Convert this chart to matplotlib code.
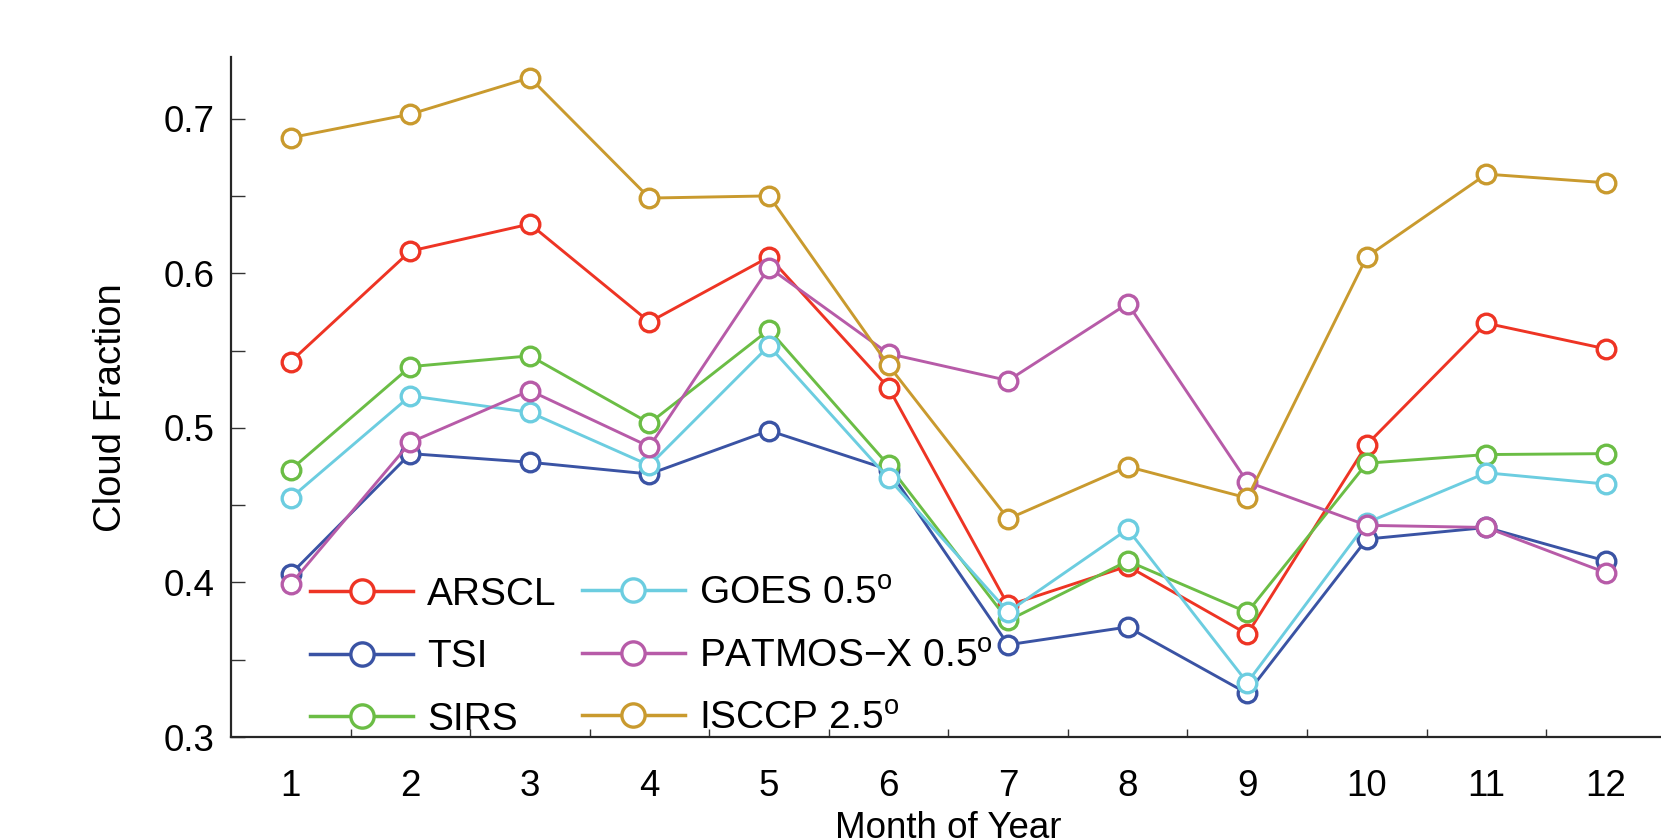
import matplotlib
matplotlib.use("Agg")
import matplotlib.pyplot as plt
from matplotlib.ticker import FixedLocator, NullFormatter

plt.rcParams['font.family'] = ['Liberation Sans', 'DejaVu Sans']
plt.rcParams['mathtext.fontset'] = 'custom'
plt.rcParams['mathtext.rm'] = 'Liberation Sans'
plt.rcParams['mathtext.it'] = 'Liberation Sans:italic'
plt.rcParams['mathtext.bf'] = 'Liberation Sans:bold'

months = [1, 2, 3, 4, 5, 6, 7, 8, 9, 10, 11, 12]

arscl = [0.543, 0.6145, 0.632, 0.5686, 0.6107, 0.526, 0.3852, 0.4106, 0.3666, 0.4893, 0.5678, 0.5512]
tsi = [0.4055, 0.4834, 0.4778, 0.4702, 0.4983, 0.473, 0.3597, 0.3712, 0.3282, 0.4281, 0.4356, 0.4139]
sirs = [0.473, 0.5397, 0.5467, 0.5031, 0.5636, 0.4758, 0.3754, 0.4139, 0.3807, 0.4772, 0.4828, 0.4834]
goes = [0.4547, 0.5208, 0.5101, 0.4758, 0.5532, 0.4674, 0.381, 0.4345, 0.3352, 0.4387, 0.471, 0.4637]
patmos = [0.399, 0.4907, 0.5242, 0.4879, 0.6038, 0.5481, 0.5307, 0.5805, 0.4651, 0.437, 0.4356, 0.4063]
isccp = [0.6879, 0.7031, 0.7267, 0.6488, 0.6502, 0.5405, 0.4412, 0.475, 0.4547, 0.6108, 0.6643, 0.6587]

labels = ["ARSCL", "TSI", "SIRS",
          r"GOES 0.5$^{\mathrm{o}}$", r"PATMOS$-$X 0.5$^{\mathrm{o}}$", r"ISCCP 2.5$^{\mathrm{o}}$"]
colors = ["#EE3424", "#3A53A4", "#6BBD45", "#6CCDE0", "#B75BA8", "#C99A2E"]
series = [arscl, tsi, sirs, goes, patmos, isccp]

W, H = 1661, 838
fig = plt.figure(figsize=(W / 100, H / 100), dpi=100)
ax = fig.add_axes([231 / W, 101 / H, (1665.75 - 231) / W, 680 / H])

lines = []
for vals, col, lab in zip(series, colors, labels):
    ln, = ax.plot(months, vals, '-o', color=col, lw=2.1, ms=13.4, mew=2.4,
                  mfc='white', mec=col, label=lab)
    lines.append(ln)

ax.set_xlim(0.5, 12.5)
ax.set_ylim(0.3, 0.7401)

for s in ['top', 'right']:
    ax.spines[s].set_visible(False)
for s in ['left', 'bottom']:
    ax.spines[s].set_linewidth(1.6)
    ax.spines[s].set_color('#262626')

fs = 26.5
ax.yaxis.set_major_locator(FixedLocator([0.3, 0.4, 0.5, 0.6, 0.7]))
ax.yaxis.set_minor_locator(FixedLocator([0.35, 0.45, 0.55, 0.65]))
ax.set_yticklabels(["0.3", "0.4", "0.5", "0.6", "0.7"])
ax.tick_params(axis='y', which='both', direction='in', length=10, width=1.0,
               color='#333333', labelsize=fs, pad=12)

ax.xaxis.set_major_locator(FixedLocator(months))
ax.set_xticklabels([str(m) for m in months])
ax.xaxis.set_minor_locator(FixedLocator([m + 0.5 for m in months]))
ax.xaxis.set_minor_formatter(NullFormatter())
ax.tick_params(axis='x', which='major', length=0, labelsize=fs, pad=23)
ax.tick_params(axis='x', which='minor', direction='in', length=6, width=1.0,
               color='#333333')

ax.set_xlabel("Month of Year", fontsize=fs, va='top')
ax.xaxis.set_label_coords(0.5, -0.1095)
ax.set_ylabel("Cloud Fraction", fontsize=27.5, va='center')
ax.yaxis.set_label_coords(-0.0836, 0.484)

leg_kw = dict(frameon=False, fontsize=28, handlelength=2.65, handletextpad=0.36,
              labelspacing=0.68, borderpad=0, borderaxespad=0, markerscale=1.25,
              loc='upper left')
leg1 = ax.legend(lines[:3], labels[:3], bbox_to_anchor=(0.0551, 0.2356), **leg_kw)
for l in leg1.get_lines():
    l.set_linewidth(2.5)
ax.add_artist(leg1)
leg2 = ax.legend(lines[3:], labels[3:], bbox_to_anchor=(0.2446, 0.237), **leg_kw)
for l in leg2.get_lines():
    l.set_linewidth(2.5)

fig.savefig("out.png", dpi=100)
